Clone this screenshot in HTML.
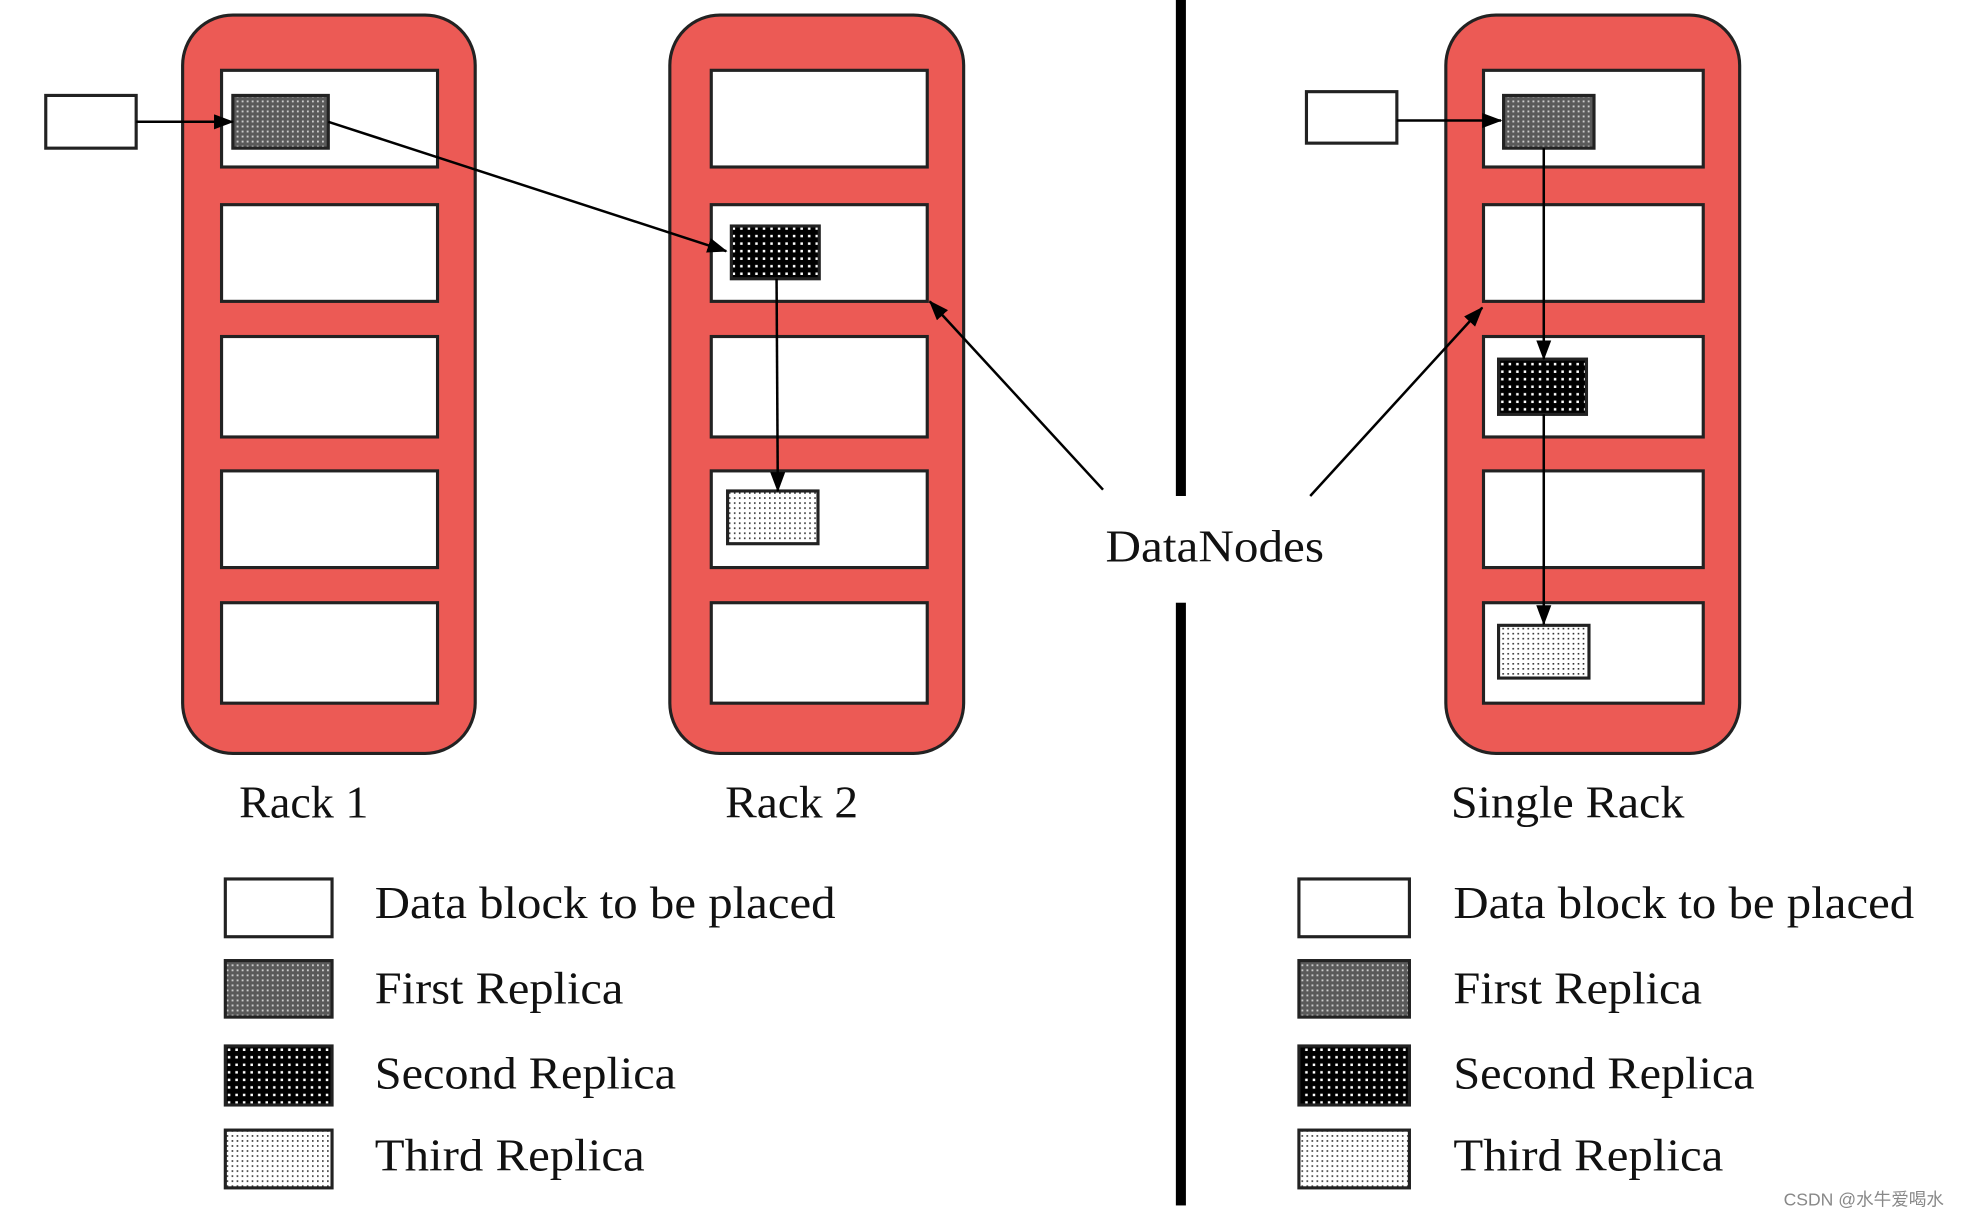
<!DOCTYPE html>
<html><head><meta charset="utf-8"><style>
html,body{margin:0;padding:0;background:#fff;}
svg{display:block;}
text{font-family:"Liberation Serif",serif;fill:#111;}
</style></head><body>
<svg width="1970" height="1218" viewBox="0 0 1568 970" xmlns="http://www.w3.org/2000/svg">
<defs>
<pattern id="p1" width="4" height="4" patternUnits="userSpaceOnUse"><rect width="4" height="4" fill="#5a5a5a"/><rect width="1.5" height="1.5" fill="#ccc"/></pattern>
<pattern id="p2" width="6" height="6" patternUnits="userSpaceOnUse"><rect width="6" height="6" fill="#000"/><rect x="1" y="1" width="2" height="2" fill="#fff"/></pattern>
<pattern id="p3" width="4" height="4" patternUnits="userSpaceOnUse"><rect width="4" height="4" fill="#fff"/><rect width="1.3" height="1.3" fill="#333"/></pattern>
<marker id="ah" markerWidth="16" markerHeight="12" refX="15" refY="6" orient="auto" markerUnits="userSpaceOnUse"><path d="M0,0 L16,6 L0,12 z" fill="#000"/></marker>
</defs>
<g stroke="#222" stroke-width="2.5">
<rect x="145" y="12" width="233" height="588" rx="40" fill="#ec5a55"/>
<rect x="533" y="12" width="234" height="588" rx="40" fill="#ec5a55"/>
<rect x="1151" y="12" width="234" height="588" rx="40" fill="#ec5a55"/>
<g fill="#fff">
<rect x="176" y="56" width="172" height="77"/><rect x="176" y="163" width="172" height="77"/><rect x="176" y="268" width="172" height="80"/><rect x="176" y="375" width="172" height="77"/><rect x="176" y="480" width="172" height="80"/>
<rect x="566" y="56" width="172" height="77"/><rect x="566" y="163" width="172" height="77"/><rect x="566" y="268" width="172" height="80"/><rect x="566" y="375" width="172" height="77"/><rect x="566" y="480" width="172" height="80"/>
<rect x="1181" y="56" width="175" height="77"/><rect x="1181" y="163" width="175" height="77"/><rect x="1181" y="268" width="175" height="80"/><rect x="1181" y="375" width="175" height="77"/><rect x="1181" y="480" width="175" height="80"/>
<rect x="36" y="76" width="72" height="42"/><rect x="1040" y="73" width="72" height="41"/>
</g>
<rect x="185" y="76" width="76" height="42" fill="url(#p1)"/>
<rect x="582" y="180" width="70" height="42" fill="url(#p2)"/>
<rect x="579" y="391" width="72" height="42" fill="url(#p3)"/>
<rect x="1197" y="76" width="72" height="42" fill="url(#p1)"/>
<rect x="1193" y="286" width="70" height="44" fill="url(#p2)"/>
<rect x="1193" y="498" width="72" height="42" fill="url(#p3)"/>
</g>
<g stroke="#000" stroke-width="2" fill="none" marker-end="url(#ah)">
<line x1="108" y1="97" x2="185" y2="97"/>
<line x1="1112" y1="96" x2="1195" y2="96"/>
<line x1="261" y1="97" x2="578" y2="200"/>
<line x1="618" y1="222" x2="619" y2="391"/>
<line x1="878" y1="390" x2="740" y2="240"/>
<line x1="1043" y1="395" x2="1180" y2="245"/>
<line x1="1229" y1="118" x2="1229" y2="286"/>
<line x1="1229" y1="330" x2="1229" y2="497"/>
</g>
<rect x="936" y="0" width="8" height="395" fill="#000"/>
<rect x="936" y="480" width="8" height="480" fill="#000"/>
<text x="880" y="447" font-size="36" textLength="174" lengthAdjust="spacingAndGlyphs">DataNodes</text>
<text x="190" y="651" font-size="36" textLength="103" lengthAdjust="spacingAndGlyphs">Rack 1</text>
<text x="577" y="651" font-size="36" textLength="106" lengthAdjust="spacingAndGlyphs">Rack 2</text>
<text x="1155" y="651" font-size="36" textLength="186" lengthAdjust="spacingAndGlyphs">Single Rack</text>
<g stroke="#222" stroke-width="2.5">
<rect x="179" y="700" width="85" height="46" fill="#fff"/>
<rect x="179" y="765" width="85" height="45" fill="url(#p1)"/>
<rect x="179" y="833" width="85" height="47" fill="url(#p2)"/>
<rect x="179" y="900" width="85" height="46" fill="url(#p3)"/>
<rect x="1034" y="700" width="88" height="46" fill="#fff"/>
<rect x="1034" y="765" width="88" height="45" fill="url(#p1)"/>
<rect x="1034" y="833" width="88" height="47" fill="url(#p2)"/>
<rect x="1034" y="900" width="88" height="46" fill="url(#p3)"/>
</g>
<g font-size="36">
<text x="298" y="731" textLength="367" lengthAdjust="spacingAndGlyphs">Data block to be placed</text>
<text x="298" y="799" textLength="198" lengthAdjust="spacingAndGlyphs">First Replica</text>
<text x="298" y="867" textLength="240" lengthAdjust="spacingAndGlyphs">Second Replica</text>
<text x="298" y="932" textLength="215" lengthAdjust="spacingAndGlyphs">Third Replica</text>
<text x="1157" y="731" textLength="367" lengthAdjust="spacingAndGlyphs">Data block to be placed</text>
<text x="1157" y="799" textLength="198" lengthAdjust="spacingAndGlyphs">First Replica</text>
<text x="1157" y="867" textLength="240" lengthAdjust="spacingAndGlyphs">Second Replica</text>
<text x="1157" y="932" textLength="215" lengthAdjust="spacingAndGlyphs">Third Replica</text>
</g>
<text x="1420" y="960" font-size="14" style="font-family:'Liberation Sans','Noto Sans CJK SC',sans-serif;fill:#888">CSDN @水牛爱喝水</text>
</svg>
</body></html>
